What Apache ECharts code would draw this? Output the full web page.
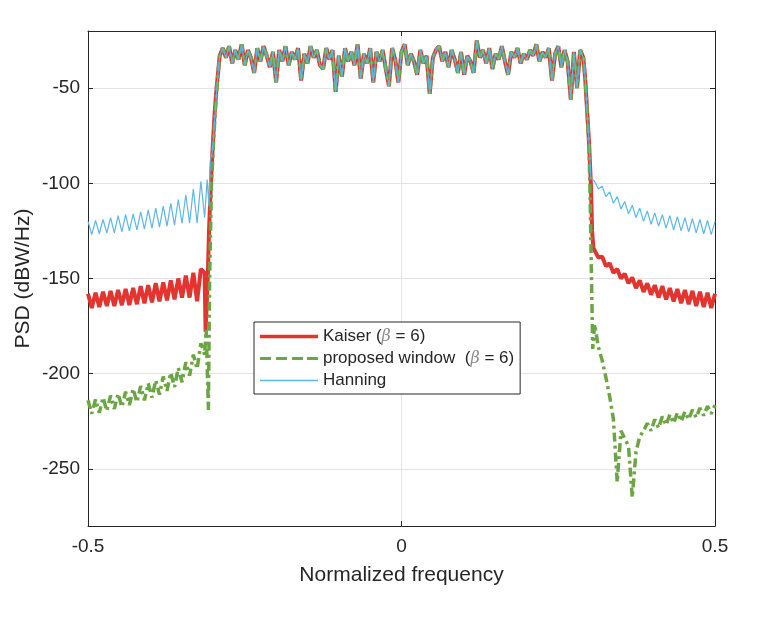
<!DOCTYPE html>
<html>
<head>
<meta charset="utf-8">
<script src="https://cdn.jsdelivr.net/npm/echarts@6/dist/echarts.min.js"></script>
<style>
  html, body { margin: 0; padding: 0; background: #fff; }
  #main { width: 764px; height: 626px; }
</style>
</head>
<body>
<div id="main"></div>
<script>
// frequency grids (normalized), stopband sampled every 0.006, passband every 0.005
let leftFreq = Array.from({ length: 32 }, (_, i) => +(-0.5 + i * 0.006).toFixed(3));
let rightFreq = Array.from({ length: 33 }, (_, i) => +(0.308 + i * 0.006).toFixed(3));
let passFreq = Array.from({ length: 117 }, (_, i) => +(-0.29 + i * 0.005).toFixed(3));

// passband PSD, the three windows overlap here
let passband = [
    -33, -29, -34, -28, -37, -30, -35, -27, -38, -30,
    -34, -42, -29, -36, -28, -33, -39, -31, -47, -30,
    -36, -28, -38, -31, -35, -29, -46, -32, -37, -28,
    -34, -30, -38, -40, -29, -35, -30, -52, -33, -44,
    -29, -36, -31, -38, -27, -45, -32, -37, -29, -47,
    -31, -36, -30, -40, -49, -29, -35, -47, -31, -27,
    -38, -32, -36, -43, -30, -37, -33, -53, -34, -30,
    -28, -36, -31, -39, -30, -35, -42, -31, -43, -33,
    -36, -42, -25, -34, -30, -37, -29, -40, -32, -35,
    -28, -36, -43, -31, -34, -29, -37, -32, -35, -30,
    -33, -27, -36, -31, -34, -29, -46, -32, -28, -39,
    -30, -36, -56, -31, -50, -30, -34
];

// Kaiser (beta = 6)
let kaiserLeft = [
    -158, -165.5, -157.5, -165, -157, -164.5, -156.5, -164.5, -156, -164,
    -155.5, -164, -155, -163.5, -154, -163, -153.5, -162.5, -152.5, -162,
    -152, -161.5, -151, -161, -150, -160, -148.5, -160, -147, -162,
    -145, -147
];
let kaiserLeftEdge = [[-0.3125, -178], [-0.309, -150], [-0.307, -125], [-0.304, -100],
    [-0.301, -80], [-0.298, -63], [-0.295, -50], [-0.292, -40]];
let kaiserRightEdge = [[0.293, -45], [0.296, -62], [0.299, -78], [0.302, -100],
    [0.304, -125], [0.306, -134]];
let kaiserRight = [
    -135, -139, -138.5, -143.5, -142, -147, -145, -150, -147.5, -152.5,
    -149.5, -155, -151, -157, -152.5, -158.5, -153.5, -160, -154, -161,
    -155, -162, -155.5, -163, -156, -163.5, -156.5, -164.5, -157, -165,
    -157.5, -165.5, -158
];

// proposed window (beta = 6)
let proposedLeft = [
    -214, -221, -213.5, -220.5, -212.5, -219.5, -211.5, -218.5, -210.5, -217.5,
    -209.5, -216.5, -208, -215, -206.5, -214, -205, -212.5, -203.5, -211,
    -201.5, -209, -199.5, -207, -197, -204.5, -194, -201, -190, -197.5,
    -184, -190
];
let proposedLeftEdge = [[-0.3115, -177], [-0.308, -219], [-0.306, -150], [-0.303, -100],
    [-0.300, -80], [-0.297, -62], [-0.294, -48], [-0.292, -40]];
let proposedRightEdge = [[0.293, -45], [0.296, -62], [0.299, -80], [0.301, -110],
    [0.303, -150], [0.305, -187]];
let proposedRight = [
    -174, -186, -193, -202, -212, -224, -257, -230, -234, -238,
    -265, -241, -233, -230, -226, -230, -224, -228.5, -222.5, -227,
    -221.5, -226, -220.5, -225, -220, -224, -219, -223, -218, -222,
    -217, -221, -216.5
];

// Hanning
let hanningLeft = [
    -120, -127, -119.5, -126.5, -119, -126, -118, -126, -117, -125.5,
    -116.5, -125, -116, -124.5, -115, -124, -114, -123.5, -113, -123,
    -112, -122.5, -110.5, -122, -108.5, -121, -106, -121, -103, -121,
    -99, -118
];
let hanningLeftEdge = [[-0.310, -98], [-0.307, -112], [-0.305, -88], [-0.302, -84],
    [-0.300, -76], [-0.297, -62], [-0.294, -48], [-0.292, -40]];
let hanningRightEdge = [[0.293, -45], [0.296, -62], [0.299, -78], [0.302, -97],
    [0.305, -97]];
let hanningRight = [
    -99, -103, -101.5, -107, -104.5, -110.5, -107, -113.5, -109.5, -116,
    -111.5, -118, -113, -120, -114.5, -121.5, -115.5, -122.5, -116.5, -123.5,
    -117, -124.5, -117.5, -125, -118, -125.5, -118.5, -126, -119, -126.5,
    -119.5, -127, -120
];

let xTicks = [-0.5, 0, 0.5];

function buildCurve(left, leftEdge, rightEdge, right) {
    let pts = [];
    left.forEach((v, i) => pts.push([leftFreq[i], v]));
    leftEdge.forEach(p => pts.push(p));
    passband.forEach((v, i) => pts.push([passFreq[i], v]));
    rightEdge.forEach(p => pts.push(p));
    right.forEach((v, i) => pts.push([rightFreq[i], v]));
    return pts;
}

let textColor = '#262626';
let fontFamily = '"Liberation Sans", Arial, sans-serif';
let betaStyle = { fontFamily: '"DejaVu Serif", serif', fontStyle: 'italic', color: '#8a8a8a', fontSize: 16 };

// legend samples drawn as paths (solid / dashed / thin)
let iconSolid = 'path://M0,0h58v3.5h-58z';
let iconDashed = 'path://M0,0h11v3h-11zM16,0h11v3h-11zM32,0h11v3h-11zM47,0h11v3h-11z';
let iconThin = 'path://M0,0h58v1.6h-58z';

let chart = echarts.init(document.getElementById('main'), null, { renderer: 'canvas' });

let boxAxis = {
    axisLine: { show: true, onZero: false, lineStyle: { color: textColor, width: 1 } },
    axisTick: { show: true, inside: true, length: 5, lineStyle: { color: textColor } }
};

let option = {
    backgroundColor: '#fff',
    animation: false,
    textStyle: { fontFamily: fontFamily, color: textColor },
    grid: { left: 88, right: 49, top: 31, bottom: 100 },
    legend: {
        orient: 'vertical',
        left: 254,
        top: 322,
        padding: [6, 6, 5, 6],
        itemGap: 5,
        itemWidth: 58,
        itemHeight: 17,
        symbolKeepAspect: true,
        backgroundColor: '#fff',
        borderColor: textColor,
        borderWidth: 1,
        borderRadius: 0,
        data: [
            { name: 'Kaiser', icon: iconSolid },
            { name: 'proposed', icon: iconDashed },
            { name: 'Hanning', icon: iconThin }
        ],
        formatter: function (name) {
            if (name === 'Kaiser') return '{n|Kaiser (}{b|β}{n| = 6)}';
            if (name === 'proposed') return '{n|proposed window  (}{b|β}{n| = 6)}';
            return '{n|Hanning}';
        },
        textStyle: {
            rich: {
                n: { fontFamily: fontFamily, fontSize: 17, color: textColor },
                b: betaStyle
            }
        }
    },
    xAxis: [
        Object.assign({}, boxAxis, {
            type: 'value',
            min: xTicks[0],
            max: xTicks[2],
            interval: 0.5,
            name: 'Normalized frequency',
            nameLocation: 'middle',
            nameGap: 39,
            nameMoveOverlap: false,
            nameTextStyle: { fontSize: 21, color: textColor, fontFamily: fontFamily },
            axisLabel: { fontSize: 19, color: textColor, margin: 11 },
            splitLine: { show: true, lineStyle: { color: '#e3e3e3', width: 1 } }
        }),
        Object.assign({}, boxAxis, {
            type: 'value',
            position: 'top',
            min: xTicks[0],
            max: xTicks[2],
            interval: 0.5,
            axisLabel: { show: false },
            splitLine: { show: false }
        })
    ],
    yAxis: [
        Object.assign({}, boxAxis, {
            type: 'value',
            min: -280,
            max: -20,
            splitNumber: 5,
            name: 'PSD (dBW/Hz)',
            nameLocation: 'middle',
            nameGap: 54,
            nameMoveOverlap: false,
            nameTextStyle: { fontSize: 21, color: textColor, fontFamily: fontFamily },
            axisLabel: { fontSize: 19, color: textColor, margin: 8, showMinLabel: false, showMaxLabel: false },
            splitLine: { show: true, lineStyle: { color: '#e3e3e3', width: 1 } }
        }),
        Object.assign({}, boxAxis, {
            type: 'value',
            position: 'right',
            min: -280,
            max: -20,
            splitNumber: 5,
            axisLabel: { show: false },
            splitLine: { show: false }
        })
    ],
    series: [
        {
            name: 'Kaiser',
            type: 'line',
            showSymbol: false,
            symbol: 'none',
            data: buildCurve(kaiserLeft, kaiserLeftEdge, kaiserRightEdge, kaiserRight),
            lineStyle: { color: '#e3342f', width: 4 },
            itemStyle: { color: '#e3342f' },
            z: 2
        },
        {
            name: 'proposed',
            type: 'line',
            showSymbol: false,
            symbol: 'none',
            data: buildCurve(proposedLeft, proposedLeftEdge, proposedRightEdge, proposedRight),
            lineStyle: { color: '#6ca543', width: 3.5, type: [9, 4, 3, 4] },
            itemStyle: { color: '#6ca543' },
            z: 3
        },
        {
            name: 'Hanning',
            type: 'line',
            showSymbol: false,
            symbol: 'none',
            data: buildCurve(hanningLeft, hanningLeftEdge, hanningRightEdge, hanningRight),
            lineStyle: { color: '#5bb8e8', width: 1.2 },
            itemStyle: { color: '#5bb8e8' },
            z: 4
        }
    ]
};

chart.setOption(option);
</script>
</body>
</html>
